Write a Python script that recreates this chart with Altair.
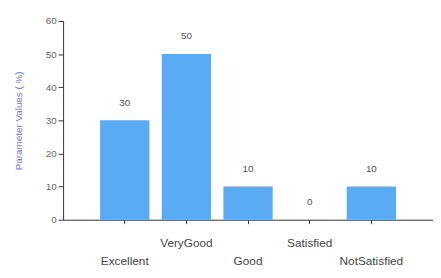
import altair as alt
import pandas as pd

categories = ["Excellent", "VeryGood", "Good", "Satisfied", "NotSatisfied"]
values = [30, 50, 10, 0, 10]
lower_row = ["Excellent", "Good", "NotSatisfied"]

df = pd.DataFrame({"cat": categories, "val": values})

font = "Liberation Sans"
lower_list = "[" + ",".join("'%s'" % c for c in lower_row) + "]"

x = alt.X(
    "cat:N",
    sort=categories,
    scale=alt.Scale(paddingInner=0.2, paddingOuter=0.6),
    axis=alt.Axis(
        title=None,
        labelAngle=0,
        labelFont=font,
        labelFontSize=12,
        labelColor="#444444",
        labelPadding=14,
        labelLineHeight=19,
        labelExpr="indexof(" + lower_list + ", datum.value) >= 0 ? [' ', datum.value] : datum.value",
        tickColor="#333333",
        tickSize=4,
        domainColor="#333333",
        labelBaseline="top",
        grid=False,
    ),
)

y = alt.Y(
    "val:Q",
    scale=alt.Scale(domain=[0, 60]),
    axis=alt.Axis(
        values=[0, 10, 20, 30, 40, 50, 60],
        title="Parameter Values ( %)",
        titleFont=font,
        titleFontSize=10,
        titleFontWeight="normal",
        titleColor="#7474d4",
        titlePadding=22,
        labelFont=font,
        labelFontSize=10,
        labelColor="#666666",
        labelOverlap=False,
        tickColor="#333333",
        tickSize=5,
        domainColor="#333333",
        grid=False,
    ),
)

base = alt.Chart(df).encode(x=x, y=y)
bars = base.mark_bar(color="#5aaaf4")
text = base.mark_text(
    dy=-18, font=font, fontSize=10, color="#555555", baseline="middle"
).encode(text="val:Q")

chart = (
    alt.layer(bars, text)
    .properties(
        width=376,
        height=202,
        autosize=alt.AutoSizeParams(type="none"),
        padding={"left": 56, "top": 11, "right": 0, "bottom": 56},
        background="white",
    )
    .configure_view(stroke=None)
)

chart.save("out.html", embed_options={"renderer": "svg", "actions": False})
